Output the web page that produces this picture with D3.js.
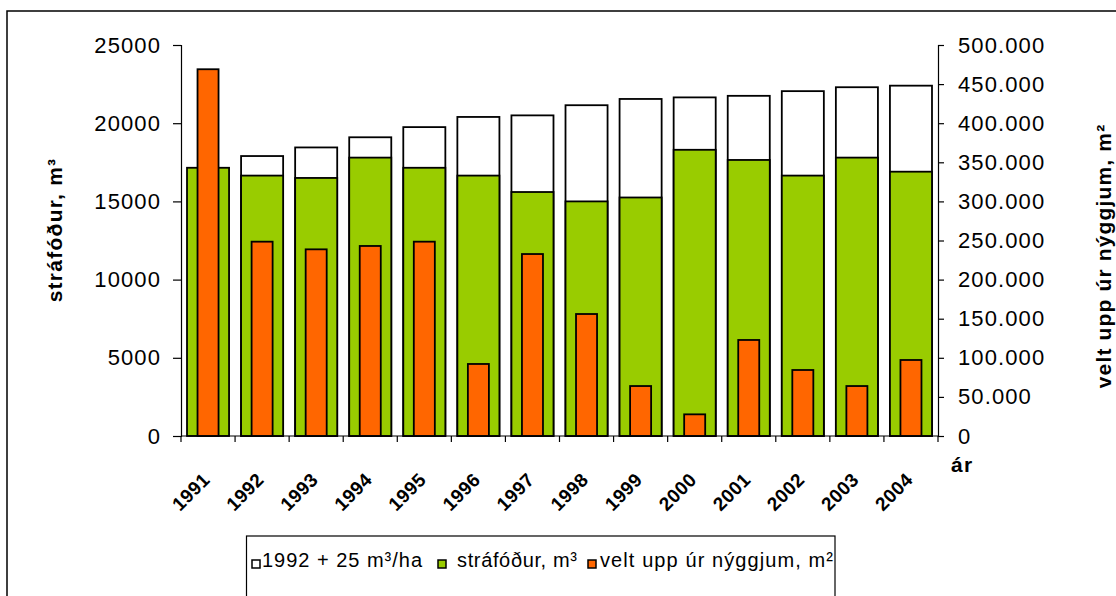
<!DOCTYPE html>
<html>
<head>
<meta charset="utf-8">
<script src="https://cdn.jsdelivr.net/npm/d3@7"></script>
<style>
body { margin: 0; background: #ffffff; }
text { font-family: "Liberation Sans", Arial, sans-serif; fill: #000; }
</style>
</head>
<body>
<script>
//years along the bottom
var years = ["1991", "1992", "1993", "1994", "1995", "1996", "1997", "1998", "1999", "2000", "2001", "2002", "2003", "2004"];
//white bars: 1992 + 25 m3/ha (left axis), nothing in 1991
var target = [null, 17900, 18450, 19100, 19750, 20400, 20500, 21150, 21550, 21650, 21750, 22050, 22300, 22400];
//green bars: strafodur, m3 (left axis)
var straf = [17150, 16650, 16500, 17800, 17150, 16650, 15600, 15000, 15250, 18300, 17650, 16650, 17800, 16900];
//orange bars: velt upp ur nyggjum, m2 (right axis)
var velt = [469000, 248500, 238700, 243000, 248500, 92100, 232700, 156000, 63900, 27700, 122800, 84400, 63900, 97200];
//tick values for both axes
var leftTicks = [0, 5000, 10000, 15000, 20000, 25000];
var rightTicks = [0, 50000, 100000, 150000, 200000, 250000, 300000, 350000, 400000, 450000, 500000];
//legend
var seriesNames = ["1992 + 25 m³/ha", "stráfóður, m³", "velt upp úr nýggjum, m²"];
var seriesColors = ["#ffffff", "#99cc00", "#ff6600"];

var width = 1116, height = 596;
var plotLeft = 181, plotRight = 938, plotTop = 45, plotBottom = 436;

var svg = d3.select("body").append("svg")
  .attr("width", width)
  .attr("height", height);

//outer frame (right and bottom are cut off in the picture)
svg.append("rect")
  .attr("x", 7).attr("y", 11)
  .attr("width", 1200).attr("height", 700)
  .attr("fill", "none").attr("stroke", "#000").attr("stroke-width", 1.5);

//scales
var x = d3.scaleBand().domain(years).range([plotLeft, plotRight]).padding(0);
var y = d3.scaleLinear().domain([0, 25000]).range([plotBottom, plotTop]);
var y2 = d3.scaleLinear().domain([0, 500000]).range([plotBottom, plotTop]);
var bw = x.bandwidth();

//dot as thousands separator for the right axis
var loc = d3.formatLocale({decimal: ",", thousands: ".", grouping: [3], currency: ["", ""]});
var fmt2 = loc.format(",d");

//white bars first, the green ones sit over them
svg.append("g").selectAll("rect")
  .data(years.filter(function(d, i) { return target[i] != null; }))
  .enter().append("rect")
  .attr("x", function(d) { return x(d) + bw * 6 / 54; })
  .attr("width", bw * 42 / 54)
  .attr("y", function(d) { return y(target[years.indexOf(d)]); })
  .attr("height", function(d) { return plotBottom - y(target[years.indexOf(d)]); })
  .attr("fill", seriesColors[0])
  .attr("stroke", "#000").attr("stroke-width", 1.8);

svg.append("g").selectAll("rect")
  .data(years)
  .enter().append("rect")
  .attr("x", function(d) { return x(d) + bw * 6 / 54; })
  .attr("width", bw * 42 / 54)
  .attr("y", function(d, i) { return y(straf[i]); })
  .attr("height", function(d, i) { return plotBottom - y(straf[i]); })
  .attr("fill", seriesColors[1])
  .attr("stroke", "#000").attr("stroke-width", 1.8);

svg.append("g").selectAll("rect")
  .data(years)
  .enter().append("rect")
  .attr("x", function(d) { return x(d) + bw * 16.5 / 54; })
  .attr("width", bw * 21 / 54)
  .attr("y", function(d, i) { return y2(velt[i]); })
  .attr("height", function(d, i) { return plotBottom - y2(velt[i]); })
  .attr("fill", seriesColors[2])
  .attr("stroke", "#000").attr("stroke-width", 1.8);

//left axis
var gl = svg.append("g")
  .attr("transform", "translate(" + plotLeft + ",0)")
  .call(d3.axisLeft(y).tickValues(leftTicks).tickSize(8).tickPadding(12).tickFormat(d3.format("d")));
//right axis
var gr = svg.append("g")
  .attr("transform", "translate(" + plotRight + ",0)")
  .call(d3.axisRight(y2).tickValues(rightTicks).tickSize(6).tickPadding(14).tickFormat(fmt2));

[gl, gr].forEach(function(g) {
  g.select(".domain").attr("stroke", "#000").attr("stroke-width", 1.2);
  g.selectAll(".tick line").attr("stroke", "#000").attr("stroke-width", 1.2);
  g.selectAll(".tick text")
    .attr("fill", "#000")
    .style("font-size", "22px")
    .style("letter-spacing", "0.05em")
    .style("font-family", "'Liberation Sans', Arial, sans-serif");
});

//bottom axis line and ticks between the years
svg.append("line")
  .attr("x1", plotLeft).attr("x2", plotRight)
  .attr("y1", plotBottom).attr("y2", plotBottom)
  .attr("stroke", "#000").attr("stroke-width", 1.2);
svg.append("g").selectAll("line")
  .data(years.concat(["end"]))
  .enter().append("line")
  .attr("x1", function(d, i) { return plotLeft + i * bw; })
  .attr("x2", function(d, i) { return plotLeft + i * bw; })
  .attr("y1", plotBottom).attr("y2", plotBottom + 6)
  .attr("stroke", "#000").attr("stroke-width", 1.2);

//year labels turned 45 degrees
svg.append("g").selectAll("text")
  .data(years)
  .enter().append("text")
  .attr("transform", function(d) { return "translate(" + (x(d) + bw / 2 + 3) + "," + 481 + ") rotate(-45)"; })
  .attr("text-anchor", "end")
  .style("font-size", "19px")
  .style("font-weight", "bold")
  .style("letter-spacing", "0.02em")
  .text(function(d) { return d; });

//axis titles
svg.append("text")
  .attr("transform", "translate(62,230) rotate(-90)")
  .attr("text-anchor", "middle")
  .style("font-size", "21px")
  .style("font-weight", "bold")
  .style("letter-spacing", "0.06em")
  .text("stráfóður, m³");

svg.append("text")
  .attr("transform", "translate(1111,256) rotate(-90)")
  .attr("text-anchor", "middle")
  .style("font-size", "21px")
  .style("font-weight", "bold")
  .style("letter-spacing", "0.055em")
  .text("velt upp úr nýggjum, m²");

svg.append("text")
  .attr("x", 951).attr("y", 472)
  .style("font-size", "21px")
  .style("font-weight", "bold")
  .style("letter-spacing", "0.06em")
  .text("ár");

//legend box
svg.append("rect")
  .attr("x", 246.5).attr("y", 536)
  .attr("width", 835 - 246.5).attr("height", 100)
  .attr("fill", "#fff").attr("stroke", "#000").attr("stroke-width", 1.2);

var legX = [252, 438, 588];
var legTextX = [262, 457, 600];
var legTextW = [160, 120, 233];

var leg = svg.append("g").selectAll("g")
  .data(seriesNames)
  .enter().append("g");

leg.append("rect")
  .attr("x", function(d, i) { return legX[i]; })
  .attr("y", 560)
  .attr("width", 8).attr("height", 8)
  .attr("fill", function(d, i) { return seriesColors[i]; })
  .attr("stroke", "#000").attr("stroke-width", 1.5);

leg.append("text")
  .attr("x", function(d, i) { return legTextX[i]; })
  .attr("y", 567)
  .attr("textLength", function(d, i) { return legTextW[i]; })
  .attr("lengthAdjust", "spacing")
  .style("font-size", "20px")
  .text(function(d) { return d; });
</script>
</body>
</html>
